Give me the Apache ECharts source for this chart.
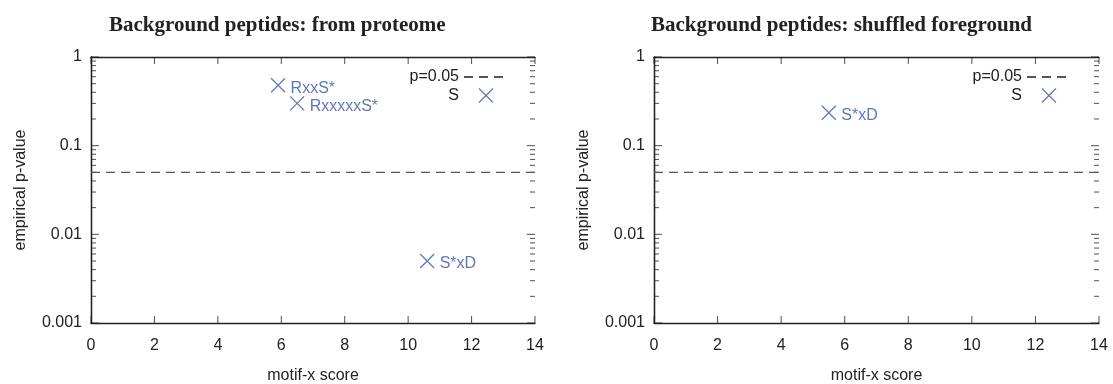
<!DOCTYPE html>
<html>
<head>
<meta charset="utf-8">
<script src="https://cdn.jsdelivr.net/npm/echarts@6/dist/echarts.min.js"></script>
<style>
  html, body { margin: 0; padding: 0; background: #fff; }
  #chart { width: 1113px; height: 384px; }
</style>
</head>
<body>
<div id="chart"></div>
<script>
// left panel: background from proteome
const leftScore = [5.9, 6.5, 10.6]
const leftP = [0.48, 0.30, 0.005]
const leftMotif = ['RxxS*', 'RxxxxxS*', 'S*xD']
// right panel: shuffled foreground
const rightScore = [5.5]
const rightP = [0.235]
const rightMotif = ['S*xD']

const cutoff = 0.05
const xTicks = [0, 2, 4, 6, 8, 10, 12, 14]
const yTicks = [0.001, 0.01, 0.1, 1]
const minorVals = [2, 3, 4, 5, 6, 7, 8, 9].flatMap(m => [0.001, 0.01, 0.1].map(d => +(m * d).toPrecision(2)))

const blue = '#3a53a8'
const ink = '#222'
const sans = 'Liberation Sans, Arial, sans-serif'

const xMin = xTicks[0]
const xMax = xTicks[xTicks.length - 1]
const yMin = yTicks[0]
const yMax = yTicks[yTicks.length - 1]

const chart = echarts.init(document.getElementById('chart'))

const crossPath = 'path://M0,0L10,10M10,0L0,10'

function xAxes(grid) {
  const base = {
    gridIndex: grid,
    type: 'value',
    min: xMin,
    max: xMax,
    interval: 2,
    splitLine: { show: false },
    axisLine: { lineStyle: { color: ink, width: 1.3 } },
    axisTick: { show: false },
  }
  return [
    {
      ...base,
      position: 'bottom',
      name: 'motif-x score',
      nameLocation: 'middle',
      nameGap: 45,
      nameTextStyle: { fontFamily: sans, fontSize: 16, color: ink },
      axisLabel: { margin: 15, fontFamily: sans, fontSize: 16, color: ink },
    },
    { ...base, position: 'top', axisLabel: { show: false } },
  ]
}

function yAxes(grid) {
  const base = {
    gridIndex: grid,
    type: 'log',
    logBase: 10,
    min: yMin,
    max: yMax,
    splitNumber: 3,
    splitLine: { show: false },
    axisLine: { lineStyle: { color: ink, width: 1.3 } },
    axisTick: { show: false },
  }
  return [
    {
      ...base,
      position: 'left',
      name: 'empirical p-value',
      nameLocation: 'middle',
      nameGap: 62,
      nameTextStyle: { fontFamily: sans, fontSize: 16, color: ink },
      axisLabel: {
        margin: 9,
        padding: [5, 0, 0, 0],
        fontFamily: sans,
        fontSize: 16,
        color: ink,
        formatter: v => String(+(+v).toPrecision(3)),
      },
    },
    { ...base, position: 'right', axisLabel: { show: false } },
  ]
}

// small tick marks drawn inward from the frame, placed by the axes' scales
function ticks(grid, data, size, offset) {
  return {
    type: 'scatter',
    xAxisIndex: grid * 2,
    yAxisIndex: grid * 2,
    data: data,
    symbol: 'rect',
    symbolSize: size,
    symbolOffset: offset,
    itemStyle: { color: ink },
    silent: true,
    clip: false,
    z: 1,
  }
}

function panelSeries(grid, scores, ps, motifs) {
  const xi = grid * 2
  const yi = grid * 2
  const pts = scores.map((s, i) => ({ value: [s, ps[i]], name: motifs[i] }))
  return [
    {
      name: 'p=0.05',
      type: 'line',
      xAxisIndex: xi,
      yAxisIndex: yi,
      data: [[xMin, cutoff], [xMax, cutoff]],
      symbol: 'none',
      silent: true,
      lineStyle: { color: '#555', width: 1.2, type: [9, 6] },
      itemStyle: { color: '#555' },
    },
    {
      name: 'S',
      type: 'scatter',
      xAxisIndex: xi,
      yAxisIndex: yi,
      data: pts,
      symbol: crossPath,
      symbolSize: 14,
      itemStyle: { color: 'none', borderColor: blue, borderWidth: 1.2 },
      label: {
        show: true,
        position: 'right',
        distance: 3,
        formatter: p => p.name,
        fontFamily: sans,
        fontSize: 16,
        color: blue,
        offset: [0, 3],
      },
      clip: false,
    },
    ticks(grid, minorVals.map(v => [xMin, v]), [5, 1], [2.5, 0]),
    ticks(grid, minorVals.map(v => [xMax, v]), [5, 1], [-2.5, 0]),
    ticks(grid, yTicks.map(v => [xMin, v]), [8, 1], [4, 0]),
    ticks(grid, yTicks.map(v => [xMax, v]), [8, 1], [-4, 0]),
    ticks(grid, xTicks.map(x => [x, yMin]), [1, 7], [0, -3.5]),
    ticks(grid, xTicks.map(x => [x, yMax]), [1, 7], [0, 3.5]),
  ]
}

function legendFor(right) {
  return {
    data: [
      { name: 'p=0.05', itemStyle: { opacity: 0 } },
      { name: 'S', itemStyle: { color: 'none', borderColor: blue, borderWidth: 1.2 } },
    ],
    orient: 'vertical',
    align: 'right',
    right: right,
    top: 64,
    itemWidth: 44,
    itemHeight: 14,
    itemGap: 1,
    selectedMode: false,
    textStyle: { fontFamily: sans, fontSize: 16, color: ink },
  }
}

const titleStyle = { fontFamily: 'Liberation Serif, Times New Roman, serif', fontSize: 21, fontWeight: 'bold', color: ink }

chart.setOption({
  animation: false,
  backgroundColor: '#fff',
  title: [
    { text: 'Background peptides: from proteome', left: 104, top: 10, textStyle: titleStyle },
    { text: 'Background peptides: shuffled foreground', left: 646, top: 10, textStyle: titleStyle },
  ],
  legend: [legendFor(599), legendFor(36)],
  grid: [
    { left: 91, top: 57, width: 444, height: 266, outerBoundsMode: 'none' },
    { left: 654, top: 57, width: 445, height: 266, outerBoundsMode: 'none' },
  ],
  xAxis: [...xAxes(0), ...xAxes(1)],
  yAxis: [...yAxes(0), ...yAxes(1)],
  series: [
    ...panelSeries(0, leftScore, leftP, leftMotif),
    ...panelSeries(1, rightScore, rightP, rightMotif),
  ],
})
</script>
</body>
</html>
